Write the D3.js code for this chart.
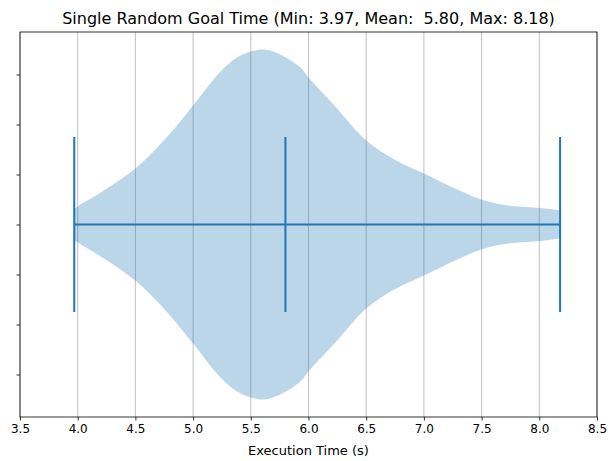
<!DOCTYPE html>
<html>
<head>
<meta charset="utf-8">
<script src="https://cdn.jsdelivr.net/npm/d3@7"></script>
<style>
  html, body { margin: 0; padding: 0; background: #fff; }
  svg { display: block; font-family: "DejaVu Sans", sans-serif; }
</style>
</head>
<body>
<svg id="chart" width="608" height="461"></svg>
<script>
// ---- data ----
const titleText = "Single Random Goal Time (Min: 3.97, Mean:  5.80, Max: 8.18)";
const xLabel = "Execution Time (s)";
const xTicks = [3.5, 4.0, 4.5, 5.0, 5.5, 6.0, 6.5, 7.0, 7.5, 8.0, 8.5];
const yTicks = [0.7, 0.8, 0.9, 1.0, 1.1, 1.2, 1.3];
const position = 1.0;
const violinWidth = 0.7;
const stats = { min: 3.97, mean: 5.80, max: 8.18 };
// estimated kernel density profile (relative, max = 1)
const kdeX = [3.97, 4.00, 4.22, 4.51, 4.77, 5.01, 5.23, 5.38, 5.51, 5.62, 5.78, 5.93, 6.00, 6.24, 6.50, 6.76, 7.01, 7.28, 7.51, 7.75, 8.01, 8.18];
const kdeD = [0.089, 0.103, 0.191, 0.326, 0.497, 0.689, 0.869, 0.954, 0.99, 1.00, 0.963, 0.897, 0.84, 0.669, 0.48, 0.366, 0.289, 0.203, 0.14, 0.107, 0.094, 0.08];

// ---- layout ----
const W = 608, H = 461;
const m = { left: 20, right: 11, top: 32, bottom: 44 };
const svg = d3.select("#chart");

const x = d3.scaleLinear().domain([3.5, 8.5]).range([m.left, W - m.right]);
const y = d3.scaleLinear().domain([1.385, 0.615]).range([m.top, H - m.bottom]);

const C0 = "#1f77b4";

// grid
svg.append("g")
  .selectAll("line").data(xTicks).join("line")
  .attr("x1", d => x(d)).attr("x2", d => x(d))
  .attr("y1", m.top).attr("y2", H - m.bottom)
  .attr("stroke", "#b0b0b0").attr("stroke-width", 0.8);

// violin body
const pts = kdeX.map((v, i) => ({ v, d: kdeD[i] }));
const half = violinWidth / 2;
const area = d3.area()
  .x(p => x(p.v))
  .y0(p => y(position - p.d * half))
  .y1(p => y(position + p.d * half))
  .curve(d3.curveCatmullRom.alpha(0.5));
svg.append("path").datum(pts)
  .attr("d", area)
  .attr("fill", C0).attr("fill-opacity", 0.3).attr("stroke", "none");

// horizontal range line
svg.append("line")
  .attr("x1", x(stats.min)).attr("x2", x(stats.max))
  .attr("y1", y(position)).attr("y2", y(position))
  .attr("stroke", C0).attr("stroke-width", 2);

// vertical bars for min, mean, max
const barHalf = violinWidth / 4;
svg.append("g")
  .selectAll("line").data([stats.min, stats.mean, stats.max]).join("line")
  .attr("x1", d => x(d)).attr("x2", d => x(d))
  .attr("y1", y(position - barHalf)).attr("y2", y(position + barHalf))
  .attr("stroke", C0).attr("stroke-width", 2);

// axes
const xAxis = d3.axisBottom(x).tickValues(xTicks).tickFormat(d3.format(".1f")).tickSize(3.5).tickPadding(3.5);
const gx = svg.append("g").attr("transform", `translate(0,${H - m.bottom})`).call(xAxis);
gx.select(".domain").remove();
gx.selectAll(".tick line").attr("stroke", "#000").attr("stroke-width", 0.8);
gx.selectAll(".tick text").attr("fill", "#000").style("font-size", "12px").style("font-family", "DejaVu Sans");

const yAxis = d3.axisLeft(y).tickValues(yTicks).tickFormat("").tickSize(3.5);
const gy = svg.append("g").attr("transform", `translate(${m.left},0)`).call(yAxis);
gy.select(".domain").remove();
gy.selectAll(".tick line").attr("stroke", "#000").attr("stroke-width", 0.8);

// frame
svg.append("rect")
  .attr("x", m.left).attr("y", m.top)
  .attr("width", W - m.left - m.right).attr("height", H - m.top - m.bottom)
  .attr("fill", "none").attr("stroke", "#000").attr("stroke-width", 0.8);

// title
svg.append("text")
  .attr("x", (m.left + W - m.right) / 2).attr("y", 24)
  .attr("text-anchor", "middle")
  .style("font-size", "16px").style("white-space", "pre")
  .attr("fill", "#000")
  .text(titleText);

// x label
svg.append("text")
  .attr("x", (m.left + W - m.right) / 2).attr("y", 455)
  .attr("text-anchor", "middle")
  .style("font-size", "13px")
  .attr("fill", "#000")
  .text(xLabel);
</script>
</body>
</html>
